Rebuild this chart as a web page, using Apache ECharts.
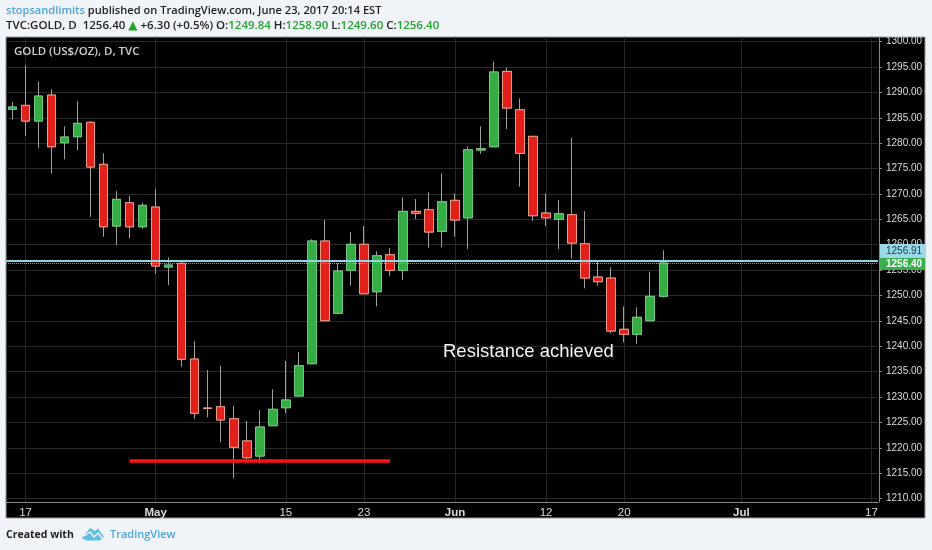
<!DOCTYPE html>
<html><head><meta charset="utf-8">
<style>html,body{margin:0;padding:0;background:#f0f4f9}#c{width:932px;height:550px}</style>
<script src="https://cdn.jsdelivr.net/npm/echarts@6/dist/echarts.min.js"></script>
</head><body><div id="c"></div>
<script>
const dates = ["Apr 14","Apr 17","Apr 18","Apr 19","Apr 20","Apr 21","Apr 24","Apr 25","Apr 26","Apr 27","Apr 28",
"May 1","May 2","May 3","May 4","May 5","May 8","May 9","May 10","May 11","May 12","May 15","May 16","May 17","May 18","May 19",
"May 22","May 23","May 24","May 25","May 26","May 29","May 30","May 31","Jun 1","Jun 2","Jun 5","Jun 6","Jun 7","Jun 8","Jun 9",
"Jun 12","Jun 13","Jun 14","Jun 15","Jun 16","Jun 19","Jun 20","Jun 21","Jun 22","Jun 23","Jun 26","Jun 27","Jun 28","Jun 29","Jun 30",
"Jul 3","Jul 4","Jul 5","Jul 6","Jul 7","Jul 10","Jul 11","Jul 12","Jul 13","Jul 14","Jul 17"];
const tickDates = ["Apr 17","May 1","May 15","May 23","Jun 1","Jun 12","Jun 20","Jul 3","Jul 17"];
const tickLabels = ["17","May","15","23","Jun","12","20","Jul","17"];
const boldLabels = ["May","Jun","Jul"];
const priceTicks = [1210,1215,1220,1225,1230,1235,1240,1245,1250,1255,1260,1265,1270,1275,1280,1285,1290,1295,1300];
const opens = [1286.65,1287.44,1284.35,1289.47,1280.08,1281.26,1284.09,1275.83,1263.68,1268.27,1263.54,1267.42,1255.61,1256.34,1237.5,1227.85,1228.11,1225.75,1221.36,1218.4,1224.37,1227.91,1230.22,1236.57,1260.73,1246.5,1254.96,1260.08,1250.75,1258.03,1254.96,1266.57,1266.89,1262.64,1268.74,1265.31,1278.64,1279.29,1294.13,1286.57,1281.34,1266.24,1265,1265.91,1260.2,1253.64,1253.44,1243.35,1242.36,1245.04,1249.84];
const closes = [1287.11,1284.35,1289.27,1279.29,1281.2,1283.9,1275.3,1263.54,1268.94,1263.54,1267.76,1255.81,1256,1237.44,1226.81,1227.75,1225.49,1220.12,1218.07,1224.11,1227.6,1229.43,1236.18,1260.73,1245.04,1254.82,1260.08,1250.35,1257.83,1254.96,1266.57,1266.18,1262.5,1268.46,1264.86,1278.7,1278.9,1294,1286.91,1277.99,1265.71,1265.31,1266.1,1260.33,1253.44,1252.72,1243.01,1242.36,1245.71,1249.84,1256.4];
const highs = [1288.15,1295.37,1292.17,1290.59,1283.31,1288.29,1284.35,1277.99,1270.57,1269.59,1268.27,1270.96,1257.52,1256.59,1241.04,1235.33,1236.18,1228.31,1225.29,1227.46,1231.54,1237.11,1238.88,1261.06,1264.86,1256.34,1262.5,1263.68,1258.7,1259.35,1269.33,1269,1270.31,1274.06,1270.12,1279.37,1283.31,1296.02,1294.84,1288.82,1281.34,1270.12,1268.8,1281.06,1266.63,1256.65,1255.55,1247.87,1247.68,1254.69,1258.9];
const lows = [1284.69,1281.4,1278.98,1274.06,1276.81,1278.64,1265.51,1261.57,1259.94,1261.26,1263.15,1254.23,1252.07,1235.98,1225.69,1226.02,1221.1,1214.07,1217.42,1216.97,1224.37,1226.81,1230.22,1236.57,1245.04,1246.36,1251.93,1250.35,1247.87,1253.84,1253.11,1265.06,1259.41,1259.55,1261.57,1259.15,1277.91,1279.29,1282.78,1271.42,1264.72,1263.68,1259.15,1257.24,1251.42,1251.93,1242.56,1240.79,1240.51,1245.04,1249.6];
const lastClose = 1256.40, resistance = 1256.91;
const supportValue = 1217.5, supportFrom = "Apr 27", supportTo = "May 25";

const up = '#35ad45', upBorder = '#6cc97a', down = '#e0201a', downBorder = '#ee9a80', wick = '#a0a0a0';
const wickData = dates.slice(0,opens.length).map((d,i)=>[opens[i],closes[i],lows[i],highs[i]]);
const bodyData = wickData.map(r=>[r[0],r[1],Math.min(r[0],r[1]),Math.max(r[0],r[1])]);
const isTick = (i,v)=>tickDates.includes(dates[i]);
const mlBase = {silent:true,symbol:'none',animation:false,label:{show:false},emphasis:{disabled:true}};

const chart = echarts.init(document.getElementById('c'),null,{renderer:'canvas'});
chart.setOption({
  animation:false,
  backgroundColor:'#f0f4f9',
  grid:{left:6,width:872,top:37,bottom:48,containLabel:false},
  xAxis:{type:'category',data:dates,boundaryGap:true,
    axisLine:{lineStyle:{color:'#8a8a8a',width:1}},
    axisTick:{alignWithLabel:true,interval:isTick,length:2,lineStyle:{color:'#8a8a8a'}},
    splitLine:{show:true,alignWithLabel:true,interval:isTick,lineStyle:{color:'#262626',width:1}},
    axisLabel:{interval:isTick,margin:5,fontFamily:'"Liberation Sans"',fontSize:11.5,color:'#dcdcdc',
      formatter:v=>{const s=tickLabels[tickDates.indexOf(v)];return boldLabels.includes(s)?'{b|'+s+'}':s;},
      rich:{b:{fontFamily:'"Liberation Sans"',fontSize:11.5,fontWeight:'bold',color:'#dcdcdc'}}}
  },
  yAxis:{type:'value',position:'right',offset:1,min:1209.35,max:1300.9,scale:true,
    axisLine:{show:true,lineStyle:{color:'#8a8a8a',width:1}},
    axisTick:{show:true,length:3,customValues:priceTicks,lineStyle:{color:'#8a8a8a'}},
    splitLine:{show:true,lineStyle:{color:'#2a2a2a',width:1}},
    axisLabel:{margin:7,customValues:priceTicks,fontFamily:'"Liberation Sans"',fontSize:10,color:'#dcdcdc',formatter:v=>v.toFixed(2)}
  },
  series:[
    {type:'line',data:[],z:1,silent:true,markLine:Object.assign({},mlBase,{
      data:[{yAxis:resistance,lineStyle:{color:'#8fd6e6',width:2,type:'solid'}},
            {yAxis:lastClose,lineStyle:{color:'#54c874',width:1,type:'dotted'}}]})},
    {type:'candlestick',name:'wicks',z:2,data:wickData,barWidth:9,silent:true,
      itemStyle:{color:up,color0:down,borderColor:wick,borderColor0:wick,borderColorDoji:wick,borderWidth:1}},
    {type:'candlestick',name:'GOLD',z:3,data:bodyData,barWidth:9,silent:true,
      itemStyle:{color:up,color0:down,borderColor:upBorder,borderColor0:downBorder,borderColorDoji:downBorder,borderWidth:1}},
    {type:'line',data:[],z:4,silent:true,markLine:Object.assign({},mlBase,{
      data:[[{coord:[supportFrom,supportValue],lineStyle:{color:'#ff1212',width:3.5,type:'solid'}},{coord:[supportTo,supportValue]}]]})}
  ],
  graphic:[
    {type:'rect',z:-10,silent:true,shape:{x:6,y:37,width:919,height:481},style:{fill:'#000',stroke:'#9a9a9a',lineWidth:1}},
    {type:'text',z:10,left:6,top:5,style:{text:'{n|stopsandlimits} published on TradingView.com, June 23, 2017 20:14 EST',
      fontFamily:'"Open Sans"',fontSize:11.1,fontWeight:600,fill:'#222',rich:{n:{fontFamily:'"Open Sans"',fontSize:11.1,fontWeight:600,fill:'#4da6dc'}}}},
    {type:'text',z:10,left:6,top:20,style:{text:'TVC:GOLD, D  1256.40 {t|▲} +6.30 (+0.5%) O:{g|1249.84} H:{g|1258.90} L:{g|1249.60} C:{g|1256.40}',
      fontFamily:'"Open Sans"',fontSize:11.5,fontWeight:600,fill:'#222',rich:{g:{fontFamily:'"Open Sans"',fontSize:11.5,fontWeight:600,fill:'#22a52c'},t:{fontFamily:'"DejaVu Sans"',fontSize:12,fill:'#22a52c'}}}},
    {type:'text',z:10,left:14,top:46,style:{text:'GOLD (US$/OZ), D, TVC',fontFamily:'"Open Sans"',fontSize:11.5,fontWeight:600,fill:'#cfcfcf'}},
    {type:'text',z:10,left:443,top:342,style:{text:'Resistance achieved',fontFamily:'"Liberation Sans"',fontSize:18.5,fill:'#f4f4f4'}},
    {type:'rect',z:11,silent:true,shape:{x:880,y:244,width:45,height:14},style:{fill:'#9bd8e8'}},
    {type:'rect',z:11,silent:true,shape:{x:880,y:258,width:45,height:12},style:{fill:'#38b04c'}},
    {type:'text',z:12,left:886,top:246,style:{text:'1256.91',fontFamily:'"Liberation Sans"',fontSize:10,fill:'#17414f'}},
    {type:'text',z:12,left:886,top:259,style:{text:'1256.40',fontFamily:'"Liberation Sans"',fontSize:10,fontWeight:'bold',fill:'#fff'}},
    {type:'text',z:10,left:6,top:530,style:{text:'Created with',fontFamily:'"Open Sans"',fontSize:10.5,fontWeight:700,fill:'#222'}},
    {type:'polygon',z:10,silent:true,shape:{points:[[82,538],[90,528],[95,531],[98,528.5],[104,537],[100,540.5],[86,540.5]]},style:{fill:'#5fbde6'}},
    {type:'polyline',z:11,silent:true,shape:{points:[[84,536],[90,532],[94,537],[98,533],[103,539]]},style:{stroke:'#f0f4f9',fill:'none',lineWidth:1.5}},
    {type:'text',z:10,left:110,top:529,style:{text:'TradingView',fontFamily:'"Open Sans"',fontSize:11,fontWeight:600,fill:'#4da6dc'}}
  ]
});
</script></body></html>
